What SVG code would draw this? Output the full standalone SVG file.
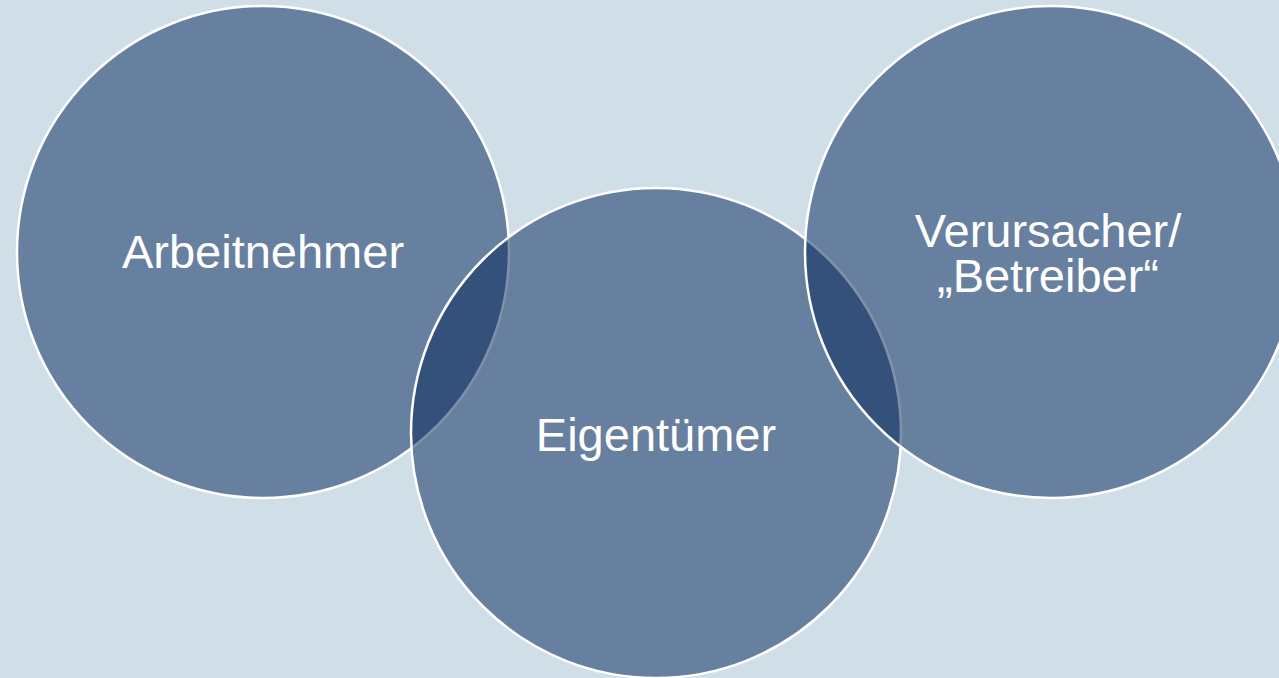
<svg xmlns="http://www.w3.org/2000/svg" width="1279" height="678" viewBox="0 0 1279 678">
<style>
.c{fill:#002258;fill-opacity:0.5;stroke:#ffffff;stroke-width:2.5}
.t{fill:#ffffff;font-family:"Liberation Sans",Arial,sans-serif;font-size:47px;text-anchor:middle}
</style>
<rect width="1279" height="678" fill="#D0DEE8"/>
<g id="connectors"/>
<g id="node-arbeitnehmer">
<circle class="c" cx="263" cy="252" r="246"/>
<text class="t" x="263" y="268">Arbeitnehmer</text>
</g>
<g id="node-eigentuemer">
<circle class="c" cx="656" cy="433" r="245"/>
<text class="t" x="656" y="451">Eigentümer</text>
</g>
<g id="node-verursacher">
<circle class="c" cx="1051" cy="252" r="246"/>
<text class="t" x="1048" y="247">Verursacher/</text>
<text class="t" x="1048" y="292">„Betreiber“</text>
</g>
</svg>
